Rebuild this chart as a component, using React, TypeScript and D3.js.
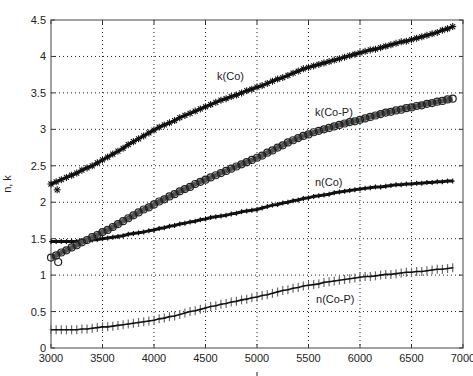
import React from "react";
import * as d3 from "d3";

const wavelengths = [3000,3050,3100,3150,3200,3250,3300,3350,3400,3450,3500,3550,3600,3650,3700,3750,3800,3850,3900,3950,4000,4050,4100,4150,4200,4250,4300,4350,4400,4450,4500,4550,4600,4650,4700,4750,4800,4850,4900,4950,5000,5050,5100,5150,5200,5250,5300,5350,5400,5450,5500,5550,5600,5650,5700,5750,5800,5850,5900,5950,6000,6050,6100,6150,6200,6250,6300,6350,6400,6450,6500,6550,6600,6650,6700,6750,6800,6850,6900];
const kCo = [2.25,2.28,2.31,2.34,2.37,2.40,2.44,2.47,2.50,2.54,2.58,2.62,2.66,2.70,2.74,2.79,2.83,2.87,2.91,2.95,2.99,3.03,3.06,3.09,3.12,3.16,3.19,3.22,3.25,3.28,3.31,3.34,3.37,3.40,3.42,3.45,3.47,3.50,3.53,3.55,3.58,3.60,3.63,3.66,3.69,3.71,3.74,3.77,3.80,3.83,3.85,3.87,3.89,3.91,3.93,3.95,3.97,3.99,4.01,4.03,4.05,4.07,4.09,4.10,4.12,4.14,4.16,4.18,4.20,4.21,4.23,4.25,4.27,4.29,4.31,4.33,4.36,4.38,4.41];
const kCoP = [1.24,1.27,1.31,1.34,1.38,1.41,1.45,1.48,1.52,1.55,1.59,1.62,1.66,1.70,1.74,1.78,1.82,1.86,1.90,1.93,1.97,2.01,2.04,2.08,2.11,2.15,2.18,2.21,2.25,2.28,2.31,2.34,2.37,2.40,2.43,2.46,2.49,2.52,2.55,2.58,2.61,2.64,2.68,2.71,2.75,2.78,2.82,2.85,2.88,2.91,2.93,2.96,2.98,3.00,3.02,3.04,3.06,3.08,3.10,3.11,3.13,3.15,3.17,3.19,3.21,3.23,3.24,3.26,3.27,3.29,3.30,3.32,3.33,3.35,3.36,3.38,3.39,3.41,3.42];
const nCo = [1.46,1.46,1.46,1.46,1.46,1.46,1.47,1.47,1.48,1.49,1.50,1.51,1.52,1.53,1.54,1.56,1.57,1.58,1.59,1.61,1.62,1.64,1.65,1.67,1.68,1.70,1.71,1.73,1.74,1.76,1.77,1.79,1.80,1.81,1.82,1.84,1.85,1.87,1.88,1.89,1.90,1.92,1.94,1.96,1.97,1.99,2.00,2.02,2.03,2.05,2.06,2.08,2.09,2.10,2.11,2.13,2.14,2.15,2.16,2.17,2.18,2.19,2.20,2.21,2.21,2.22,2.23,2.24,2.24,2.25,2.25,2.26,2.26,2.27,2.27,2.28,2.28,2.29,2.29];
const nCoP = [0.25,0.25,0.25,0.25,0.25,0.25,0.26,0.26,0.27,0.28,0.29,0.29,0.30,0.31,0.32,0.33,0.34,0.35,0.36,0.37,0.38,0.40,0.41,0.43,0.44,0.46,0.48,0.50,0.51,0.53,0.55,0.57,0.58,0.60,0.61,0.63,0.64,0.66,0.67,0.69,0.70,0.72,0.73,0.75,0.77,0.79,0.80,0.82,0.83,0.85,0.86,0.87,0.88,0.90,0.91,0.92,0.93,0.94,0.95,0.96,0.97,0.98,0.98,0.99,1.00,1.01,1.01,1.02,1.03,1.04,1.04,1.05,1.05,1.06,1.07,1.08,1.08,1.09,1.10];
const outlierKCo = { x: 3060, y: 2.17 };
const outlierKCoP = { x: 3070, y: 1.18 };

const xTicks = [3000,3500,4000,4500,5000,5500,6000,6500,7000];
const yTicks = [0,0.5,1,1.5,2,2.5,3,3.5,4,4.5];

const labels = [
  { text: "k(Co)", x: 4612, y: 3.68 },
  { text: "k(Co-P)", x: 5563, y: 3.18 },
  { text: "n(Co)", x: 5563, y: 2.225 },
  { text: "n(Co-P)", x: 5573, y: 0.62 },
];

const W = 473, H = 376;
const L = 51, R = 463, T = 20, B = 348;

export default function App() {
  const x = d3.scaleLinear().domain([3000, 7000]).range([L, R]);
  const y = d3.scaleLinear().domain([0, 4.5]).range([B, T]);
  const line = (vals: number[]) =>
    d3.line<number>().x((_, i) => x(wavelengths[i])).y((v) => y(v))(vals) || "";
  const font = "Liberation Sans, Arial, sans-serif";

  const star = (cx: number, cy: number, key: string) => (
    <g key={key} stroke="#111" strokeWidth={1.1}>
      <line x1={cx - 3.5} y1={cy} x2={cx + 3.5} y2={cy} />
      <line x1={cx} y1={cy - 3.5} x2={cx} y2={cy + 3.5} />
      <line x1={cx - 2.5} y1={cy - 2.5} x2={cx + 2.5} y2={cy + 2.5} />
      <line x1={cx - 2.5} y1={cy + 2.5} x2={cx + 2.5} y2={cy - 2.5} />
    </g>
  );
  const plus = (cx: number, cy: number, key: string, h: number, w: number, c: string) => (
    <g key={key} stroke={c} strokeWidth={1.2}>
      <line x1={cx - w} y1={cy} x2={cx + w} y2={cy} />
      <line x1={cx} y1={cy - h} x2={cx} y2={cy + h} />
    </g>
  );

  return (
    <svg width={W} height={H} style={{ position: "fixed", left: 0, top: 0, background: "#fff" }}>
      <rect x={0} y={0} width={W} height={H} fill="#fff" />
      {/* grid */}
      <g stroke="#222" strokeWidth={1} strokeDasharray="1,3">
        {xTicks.slice(1, -1).map((t) => (
          <line key={"gx" + t} x1={x(t)} x2={x(t)} y1={T} y2={B} />
        ))}
        {yTicks.slice(1, -1).map((t) => (
          <line key={"gy" + t} x1={L} x2={R} y1={y(t)} y2={y(t)} />
        ))}
      </g>
      {/* ticks */}
      <g stroke="#333" strokeWidth={1}>
        {xTicks.map((t) => (
          <g key={"tx" + t}>
            <line x1={x(t)} x2={x(t)} y1={B} y2={B - 4} />
            <line x1={x(t)} x2={x(t)} y1={T} y2={T + 4} />
          </g>
        ))}
        {yTicks.map((t) => (
          <g key={"ty" + t}>
            <line x1={L} x2={L + 4} y1={y(t)} y2={y(t)} />
            <line x1={R} x2={R - 4} y1={y(t)} y2={y(t)} />
          </g>
        ))}
      </g>
      <rect x={L} y={T} width={R - L} height={B - T} fill="none" stroke="#444" strokeWidth={1} />
      {/* tick labels */}
      <g fontFamily={font} fontSize={11} fill="#222">
        {xTicks.map((t) => (
          <text key={"lx" + t} x={x(t)} y={B + 14} textAnchor="middle">{t}</text>
        ))}
        {yTicks.map((t) => (
          <text key={"ly" + t} x={L - 5} y={y(t) + 4} textAnchor="end">{t}</text>
        ))}
        <text transform={`translate(11,${(T + B) / 2}) rotate(-90)`} textAnchor="middle">n, k</text>
        <text x={(L + R) / 2} y={380} textAnchor="middle">l</text>
      </g>
      {/* n(Co-P) */}
      <g>
        {nCoP.map((v, i) => plus(x(wavelengths[i]), y(v), "np" + i, 4.5, 1.5, "#6a6a6a"))}
        <path d={line(nCoP)} fill="none" stroke="#111" strokeWidth={1.6} />
      </g>
      {/* n(Co) */}
      <g>
        <path d={line(nCo)} fill="none" stroke="#111" strokeWidth={3} />
        {nCo.map((v, i) => plus(x(wavelengths[i]), y(v), "nc" + i, 2.5, 2, "#111"))}
      </g>
      {/* k(Co-P) */}
      <g>
        <path d={line(kCoP)} fill="none" stroke="#555" strokeWidth={5} />
        {kCoP.map((v, i) => (
          <circle key={"kp" + i} cx={x(wavelengths[i])} cy={y(v)} r={3.5} fill="none" stroke="#222" strokeWidth={1.2} />
        ))}
        <circle cx={x(outlierKCoP.x)} cy={y(outlierKCoP.y)} r={3.5} fill="none" stroke="#222" strokeWidth={1.2} />
      </g>
      {/* k(Co) */}
      <g>
        <path d={line(kCo)} fill="none" stroke="#111" strokeWidth={3} />
        {kCo.map((v, i) => star(x(wavelengths[i]), y(v), "kc" + i))}
        {star(x(outlierKCo.x), y(outlierKCo.y), "kco")}
      </g>
      {/* labels */}
      <g fontFamily={font} fontSize={11} fill="#222">
        {labels.map((l) => (
          <text key={l.text} x={x(l.x)} y={y(l.y)}>{l.text}</text>
        ))}
      </g>
    </svg>
  );
}
